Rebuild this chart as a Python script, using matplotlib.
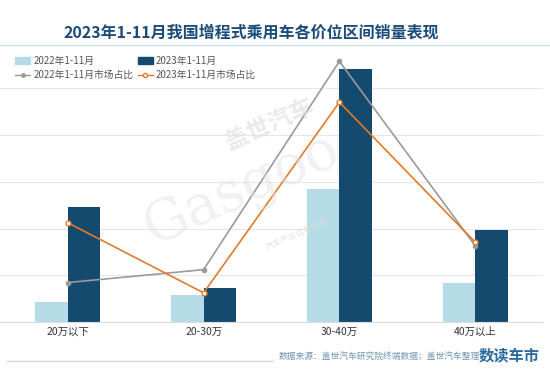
import numpy as np
from matplotlib import pyplot as plt
from matplotlib.lines import Line2D
from matplotlib.patches import Patch

plt.rcParams['font.family'] = ['Noto Sans CJK SC', 'DejaVu Sans']

categories = ['20万以下', '20-30万', '30-40万', '40万以上']
sales_2022 = [0.84, 1.14, 5.69, 1.66]      # 万辆
sales_2023 = [4.91, 1.44, 10.82, 3.95]
share_2022 = [9.2, 12.2, 60.7, 17.8]       # %
share_2023 = [23.1, 6.8, 51.2, 18.6]

light_blue = '#b5dce6'
dark_blue = '#154a6f'
gray = '#9a9a9a'
orange = '#e07a2c'

fig = plt.figure(figsize=(5.5, 3.78), dpi=100)
ax = fig.add_axes([0.0, 0.148, 543 / 550, 0.742])

x = np.arange(len(categories))
w = 0.24
ax.bar(x - w / 2, sales_2022, w, color=light_blue, zorder=2)
ax.bar(x + w / 2, sales_2023, w, color=dark_blue, zorder=2)
ax.set_xlim(-0.5, 3.5)
ax.set_ylim(0, 12)
ax.set_yticks([0, 2, 4, 6, 8, 10])
ax.yaxis.grid(True, color='#e6e6e6', linewidth=0.8, zorder=0)
ax.set_axisbelow(True)
ax.set_yticklabels([])
ax.tick_params(length=0)
ax.set_xticks(x)
ax.set_xticklabels(categories, fontsize=7.5, color='#333333')
for s in ['top', 'left', 'right']:
    ax.spines[s].set_visible(False)
ax.spines['bottom'].set_color('#dddddd')

ax2 = ax.twinx()
ax2.plot(x, share_2022, color=gray, linewidth=1.2, marker='o', markersize=3,
         markerfacecolor=gray, markeredgecolor=gray, zorder=3)
ax2.plot(x, share_2023, color=orange, linewidth=1.2, marker='o', markersize=3.5,
         markerfacecolor='white', markeredgecolor=orange, zorder=4)
ax2.set_ylim(0, 65.3)
ax2.set_yticks([])
for s in ax2.spines.values():
    s.set_visible(False)

# watermark
fig.text(0.49, 0.67, '盖世汽车', fontsize=17, rotation=24, color='#dcdcdc',
         alpha=0.6, ha='center', va='center', fontweight='bold')
fig.text(0.44, 0.50, 'Gasgoo', fontsize=40, rotation=24, color='#e0e0e0',
         alpha=0.45, ha='center', va='center', family='DejaVu Serif')
fig.text(0.54, 0.38, '汽车产业信息服务', fontsize=6, rotation=24, color='#dddddd',
         alpha=0.8, ha='center', va='center')

handles = [Patch(color=light_blue),
           Line2D([], [], color=gray, marker='o', markersize=2.5, linewidth=1),
           Patch(color=dark_blue),
           Line2D([], [], color=orange, marker='o', markersize=3,
                  markerfacecolor='white', linewidth=1)]
labels = ['2022年1-11月', '2022年1-11月市场占比', '2023年1-11月', '2023年1-11月市场占比']
leg = ax.legend(handles, labels, ncol=2, loc='upper left', bbox_to_anchor=(0.02, 0.962),
                frameon=False, fontsize=7, handlelength=1.6, handleheight=0.7,
                handletextpad=0.3, columnspacing=0.45, labelspacing=0.4,
                borderaxespad=0)
for t in leg.get_texts():
    t.set_color('#555555')

fig.text(0.457, 0.913, '2023年1-11月我国增程式乘用车各价位区间销量表现', fontsize=11.5,
         fontweight='bold', color='#1b4b78', ha='center', va='center')
fig.add_artist(Line2D([0, 1], [1 - 45 / 378, 1 - 45 / 378], color='#c9e0ea', linewidth=1))

fig.add_artist(Line2D([7 / 550, 273 / 550], [1 - 360.5 / 378] * 2, color='#c9dce6', linewidth=1))
fig.text(279 / 550, 1 - 356 / 378, '数据来源：盖世汽车研究院终端数据；盖世汽车整理', fontsize=6.3,
         color='#7296b4', ha='left', va='center', style='italic')
fig.text(540 / 550, 1 - 355 / 378, '数读车市', fontsize=11, color='#2a6b9c',
         ha='right', va='center', fontweight='bold')

fig.savefig('out.png', dpi=100)
